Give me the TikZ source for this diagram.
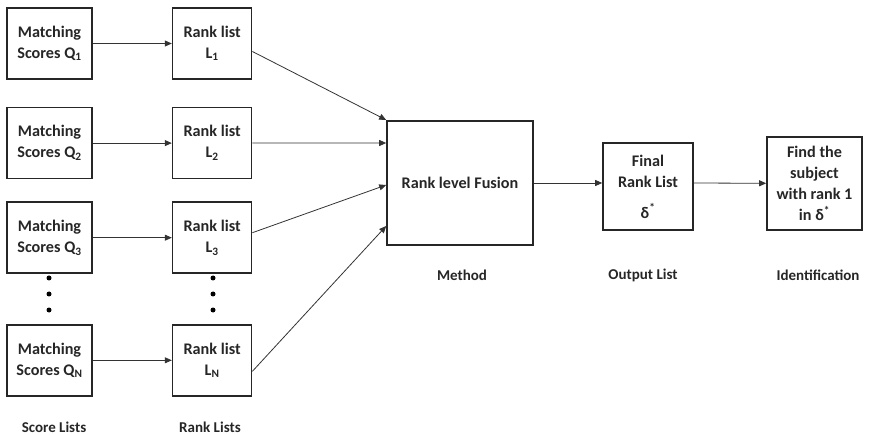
\documentclass[tikz,border=0pt]{standalone}
\usepackage{fontspec}
\setmainfont{Carlito}
\usetikzlibrary{arrows.meta, positioning, calc}

\begin{document}
\begin{tikzpicture}[
    x=1pt, y=-1pt,
    font=\fontsize{16.2}{21}\selectfont\bfseries,
    box/.style={rectangle, draw=black!85, line width=1.6pt, align=center, inner sep=2pt, text=black!85},
    score/.style={box, minimum width=85pt, minimum height=71pt},
    rank/.style={box, minimum width=79pt, minimum height=71pt},
    caption/.style={font=\fontsize{15}{18}\selectfont\bfseries, text=black!85},
    arrow/.style={-{Triangle[length=7pt, width=6pt]}, line width=0.8pt, black!80},
    dot/.style={circle, fill=black, inner sep=0pt, minimum size=5pt}
]
\useasboundingbox (0,0) rectangle (869,435);

% Score lists (left column)
\node[score] (s1) at (49.5,43.5) {Matching\\Scores Q\textsubscript{1}};
\node[score, below=27pt of s1] (s2) {Matching\\Scores Q\textsubscript{2}};
\node[score, below=22pt of s2] (s3) {Matching\\Scores Q\textsubscript{3}};
\node[score, below=50pt of s3] (sN) {Matching\\Scores Q\textsubscript{N}};

% Rank lists (second column)
\node[rank, right=79pt of s1] (r1) {Rank list\\L\textsubscript{1}};
\node[rank, right=79pt of s2] (r2) {Rank list\\L\textsubscript{2}};
\node[rank, right=79pt of s3] (r3) {Rank list\\L\textsubscript{3}};
\node[rank, right=79pt of sN] (rN) {Rank list\\L\textsubscript{N}};

% Dots between row 3 and row N
\foreach \yy in {278,294,310} {
    \node[dot] (sd\yy) at (49,\yy) {};
    \node[dot] (rd\yy) at (213,\yy) {};
}

% Fusion, output and identification
\node[box, minimum width=146pt, minimum height=124pt] (fusion) at (460,183) {Rank level Fusion};
\node[box, minimum width=90pt, minimum height=87pt] (final) at (648,186.5) {Final\\Rank List\\[10pt]δ\textsuperscript{*}};
\node[box, minimum width=95pt, minimum height=93pt] (find) at (814.5,183.5) {Find the\\subject\\with rank 1\\in δ\textsuperscript{*}};

% Captions
\node[caption] (cap1) at (54,427) {Score Lists};
\node[caption] (cap2) at (210,427) {Rank Lists};
\node[caption] (cap3) at (462,275) {Method};
\node[caption] (cap4) at (643,275) {Output List};
\node[caption] (cap5) at (818,275) {Identification};

% Arrows - scores to rank lists
\foreach \i in {1,2,3,N} {
    \draw[arrow] (s\i) -- (r\i);
}

% Arrows - rank lists to fusion
\draw[arrow] ([yshift=-8pt]r1.east) -- ([yshift=63pt]fusion.west);
\draw[arrow] (r2.east) -- ([yshift=40pt]fusion.west);
\draw[arrow] ([yshift=5pt]r3.east) -- ([yshift=-2pt]fusion.west);
\draw[arrow] ([yshift=-11pt]rN.east) -- ([yshift=-43pt]fusion.west);

% Arrows - fusion to output
\draw[arrow] (fusion) -- (fusion -| final.west);
\draw[arrow] (final.east |- fusion) -- (find);

\end{tikzpicture}
\end{document}
